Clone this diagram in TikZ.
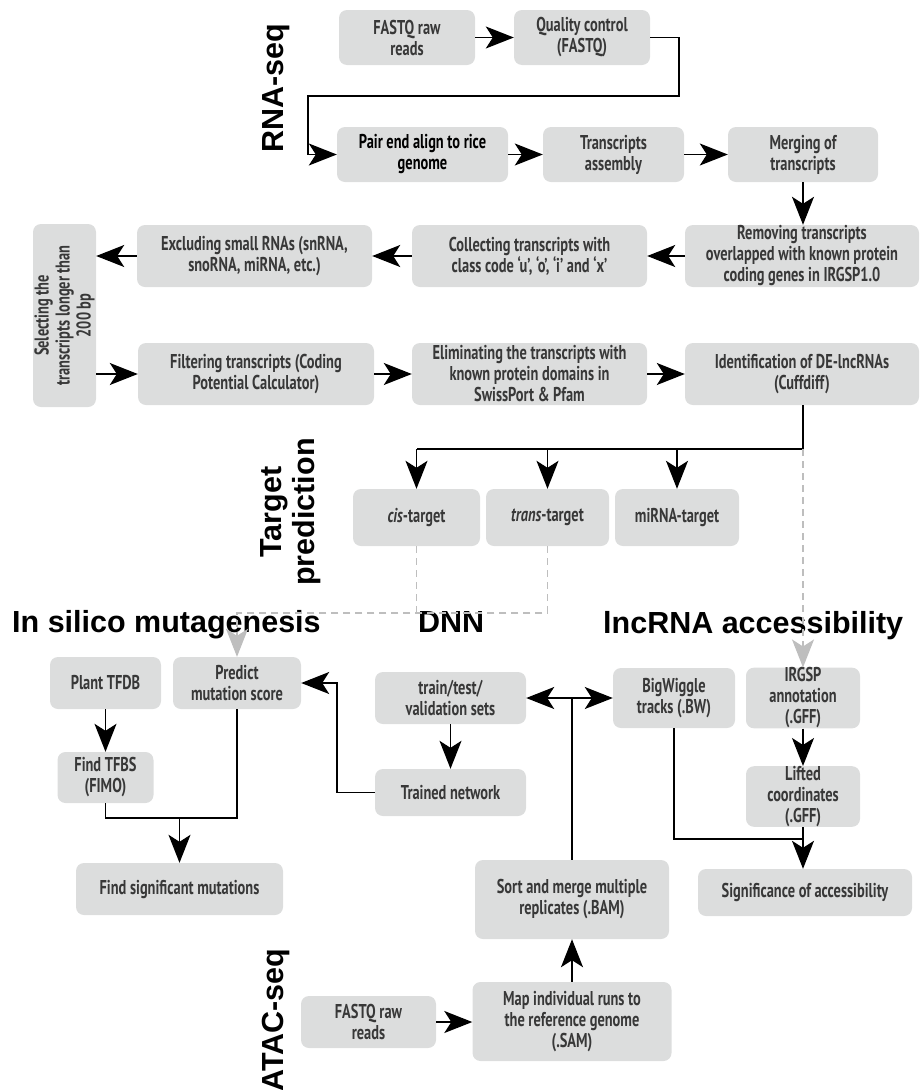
\documentclass[tikz,border=0pt]{standalone}
\usepackage{fontspec}
\setmainfont{PT Sans}[FakeStretch=0.72]
\newfontfamily\headfont{Liberation Sans}
\usetikzlibrary{arrows.meta}
\definecolor{boxgray}{HTML}{DCDDDD}
\definecolor{txtgray}{HTML}{383838}
\definecolor{dashgray}{HTML}{BEBEBE}
\begin{document}
\begin{tikzpicture}[x=1pt,y=-1pt,
  box/.style={rounded corners=8pt, fill=boxgray, text=txtgray, align=center, inner sep=0pt, font=\fontsize{20}{21}\selectfont\bfseries},
  sz/.style 2 args={minimum width=#1pt, minimum height=#2pt},
  conn/.style={line width=1.5pt, draw=black},
  arr/.style={conn, -{Stealth[length=28pt,width=22pt,inset=7pt]}},
  gline/.style={line width=1.5pt, draw=dashgray, dash pattern=on 7pt off 5pt},
  garr/.style={gline, -{Stealth[length=28pt,width=22pt,inset=7pt,fill=dashgray]}},
  head/.style={font=\headfont\bfseries\fontsize{30.5}{33}\selectfont, inner sep=0pt}
]
\useasboundingbox (0,0) rectangle (919,1090);

% RNA-seq part
\node[box, sz={136}{55}] (fq1) at (407,37.5) {FASTQ raw\\reads};
\node[box, sz={136}{55}] (qc) at (582,37.5) {Quality control\\(FASTQ)};
\node[box, sz={171}{55}, text=black] (pe) at (422.5,154.5) {Pair end align to rice\\genome};
\node[box, sz={141}{55}] (ta) at (613.5,154.5) {Transcripts\\assembly};
\node[box, sz={150}{55}] (mg) at (803,154.5) {Merging of\\transcripts};
\node[box, sz={234}{62}] (rm) at (802,256) {Removing transcripts\\overlapped with known protein\\coding genes in IRGSP1.0};
\node[box, sz={235}{62}] (co) at (529.5,256) {Collecting transcripts with\\class code ‘u’, ‘o’, ‘i’ and ‘x’};
\node[box, sz={235}{62}] (ex) at (254.5,256) {Excluding small RNAs (snRNA,\\snoRNA, miRNA, etc.)};
\node[box, sz={183}{63}, rotate=90] (sel) at (64.5,315.5) {Selecting the\\transcripts longer than\\200 bp};
\node[box, sz={236}{62}] (fi) at (256,374) {Filtering transcripts (Coding\\Potential Calculator)};
\node[box, sz={235}{62}] (el) at (529.5,374) {Eliminating the transcripts with\\known protein domains in\\SwissPort \& Pfam};
\node[box, sz={234}{62}] (id) at (802,374) {Identification of DE-lncRNAs\\(Cuffdiff)};

% target prediction
\node[box, sz={127}{57}] (cis) at (416.5,517.5) {\textit{cis}-target};
\node[box, sz={123}{57}] (trans) at (547.5,517.5) {\textit{trans}-target};
\node[box, sz={124}{57}] (mirna) at (677,517.5) {miRNA-target};

% in silico mutagenesis
\node[box, sz={111}{52}] (plant) at (105.5,683) {Plant TFDB};
\node[box, sz={128}{52}] (pred) at (237,683) {Predict\\mutation score};
\node[box, sz={96}{51}] (tfbs) at (105.5,777.5) {Find TFBS\\(FIMO)};
\node[box, sz={207}{52}] (fsm) at (179.5,889) {Find significant mutations};

% DNN
\node[box, sz={151}{52}] (tt) at (450.5,698) {train/test/\\validation sets};
\node[box, sz={151}{47}] (tn) at (450.5,792.5) {Trained network};

% accessibility
\node[box, sz={122}{60}] (bw) at (674,698) {BigWiggle\\tracks (.BW)};
\node[box, sz={114}{60}] (irgsp) at (803,698) {IRGSP\\annotation\\(.GFF)};
\node[box, sz={114}{59}] (lift) at (803,796.5) {Lifted\\coordinates\\(.GFF)};
\node[box, sz={214}{47}] (sig) at (805,892.5) {Significance of accessibility};

% ATAC-seq
\node[box, sz={194}{79}] (sort) at (572,899.5) {Sort and merge multiple\\replicates (.BAM)};
\node[box, sz={199}{79}] (map) at (572,1021.5) {Map individual runs to\\the reference genome\\(.SAM)};
\node[box, sz={135}{52}] (fq2) at (368.5,1022) {FASTQ raw\\reads};

% headings
\node[head, anchor=base west] (hism) at (12,632) {In silico mutagenesis};
\node[head, anchor=base west] (hdnn) at (418,632) {DNN};
\node[head, anchor=base west] (hacc) at (603,633) {lncRNA accessibility};
\node[head, rotate=90, anchor=base] (hrna) at (283,88) {RNA-seq};
\node[head, rotate=90, align=center] (htp) at (291,512) {Target\\prediction};
\node[head, rotate=90, anchor=base] (hatac) at (283,1020) {ATAC-seq};

% connectors: RNA-seq
\coordinate (t1) at (679,96);
\coordinate (t2) at (308,154.5);
\draw[arr] (fq1) -- (qc);
\draw[arr] (qc.east) -| (t1) -| (t2) -- (pe.west);
\draw[arr] (pe) -- (ta);
\draw[arr] (ta) -- (mg);
\draw[arr] (mg.south) -- (mg.south |- rm.north);
\draw[arr] (rm) -- (co);
\draw[arr] (co) -- (ex);
\draw[arr] (ex.west) -- (sel.south |- ex.west);
\draw[arr] (sel.south |- fi.west) -- (fi.west);
\draw[arr] (fi) -- (el);
\draw[arr] (el) -- (id);

% target split
\coordinate (spl) at (803,449);
\draw[conn] (id.south -| spl) -- (spl) -- (cis.north |- spl);
\draw[arr] (cis.north |- spl) -- (cis.north);
\draw[arr] (trans.north |- spl) -- (trans.north);
\draw[arr] (mirna.north |- spl) -- (mirna.north);
\draw[garr] (spl) -- (irgsp.north);
\coordinate (gd) at (416.5,613);
\draw[gline] (cis.south) -- (gd);
\draw[garr] (trans.south) -- (trans.south |- gd) -| (pred.north);

% mutagenesis
\draw[arr] (plant) -- (tfbs);
\coordinate (mj) at (179.5,818);
\draw[conn] (tfbs.south) |- (pred.south |- mj) -- (pred.south);
\draw[arr] (mj) -- (fsm.north);
\coordinate (t3) at (337,683);
\draw[arr] (tn.west) -| (t3) -- (pred.east);

% DNN
\draw[arr] (tt) -- (tn);
\coordinate (dj) at (572,698);
\draw[conn] (sort.north) -- (dj);
\draw[arr] (dj) -- (tt.east);
\draw[arr] (dj) -- (bw.west);

% accessibility
\draw[arr] (irgsp) -- (lift);
\draw[conn] (bw.south) |- (lift.south |- 0,839);
\draw[arr] (lift.south) -- (lift.south |- sig.north);

% ATAC
\draw[arr] (map) -- (sort);
\draw[arr] (fq2.east) -- (fq2.east -| map.west);
\end{tikzpicture}
\end{document}
